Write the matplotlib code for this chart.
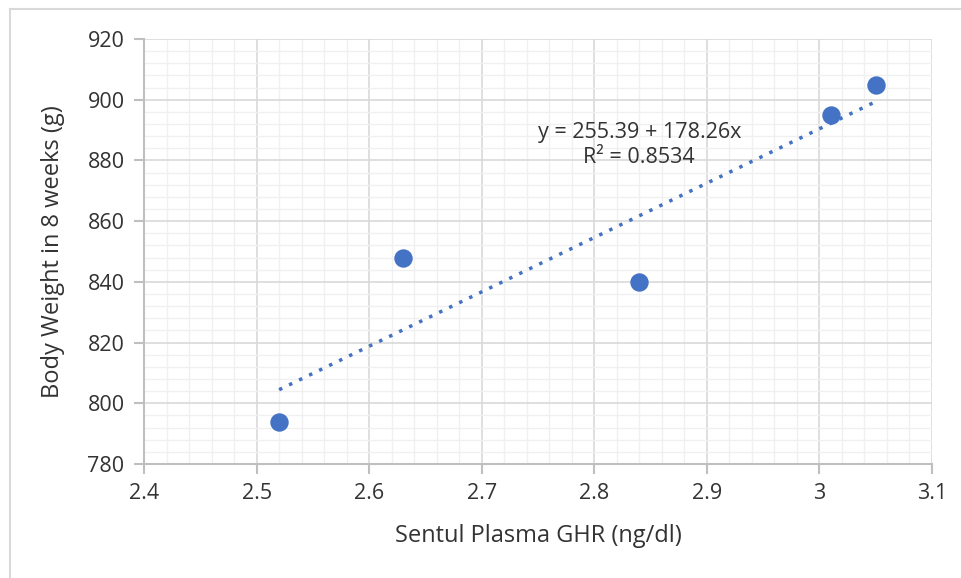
import numpy as np
import matplotlib
matplotlib.use("Agg")
import matplotlib.pyplot as plt
from matplotlib.ticker import MultipleLocator

plt.rcParams['font.family'] = ['Open Sans', 'DejaVu Sans']

# data
ghr = [2.52, 2.63, 2.84, 3.01, 3.05]
weight = [794, 848, 840, 895, 905]
eq_label = "y = 255.39 + 178.26x\nR\u00b2 = 0.8534"

blue = '#4472C4'
txt = '#333333'

fig = plt.figure(figsize=(9.62, 5.78), dpi=100)
ax = fig.add_axes([0.1497, 0.1972, 0.8191, 0.7353])

# grid
ax.xaxis.set_major_locator(MultipleLocator(0.1))
ax.xaxis.set_minor_locator(MultipleLocator(0.02))
ax.yaxis.set_major_locator(MultipleLocator(20))
ax.yaxis.set_minor_locator(MultipleLocator(4))
ax.grid(which='minor', color='#f0f0f0', lw=1.0)
ax.grid(which='major', color='#d9d9d9', lw=1.2)
ax.set_axisbelow(True)

ax.scatter(ghr, weight, s=150, color=blue, zorder=3)

# linear trend line
k, b = np.polyfit(ghr, weight, 1)
xs = np.array([min(ghr), max(ghr)])
ax.plot(xs, k * xs + b, color=blue, lw=2.5, ls=(0, (1, 2.2)), zorder=2)

ax.text(2.84, 885, eq_label, ha='center', va='center', fontsize=15.5,
        color=txt, linespacing=1.25)

ax.set_xlim(2.4, 3.1)
ax.set_ylim(780, 920)
ax.xaxis.set_major_formatter(plt.FuncFormatter(lambda v, p: f"{v:g}"))

for s in ['top', 'right']:
    ax.spines[s].set_visible(False)
for s in ['left', 'bottom']:
    ax.spines[s].set_color('#bfbfbf')
    ax.spines[s].set_linewidth(1.5)
ax.tick_params(which='major', length=7, width=1.5, color='#bfbfbf',
               labelsize=15.5, labelcolor=txt, pad=7)
ax.tick_params(which='minor', length=0)

ax.set_xlabel('Sentul Plasma GHR (ng/dl)', fontsize=17, color=txt, labelpad=14)
ax.set_ylabel('Body Weight in 8 weeks (g)', fontsize=17, color=txt, labelpad=16)

# outer chart border
fig.add_artist(plt.Line2D([10 / 962, 1], [1 - 9 / 578, 1 - 9 / 578], color='#d9d9d9', lw=1.5))
fig.add_artist(plt.Line2D([10 / 962, 10 / 962], [0, 1 - 9 / 578], color='#d9d9d9', lw=1.5))

fig.savefig('out.png', dpi=100)
